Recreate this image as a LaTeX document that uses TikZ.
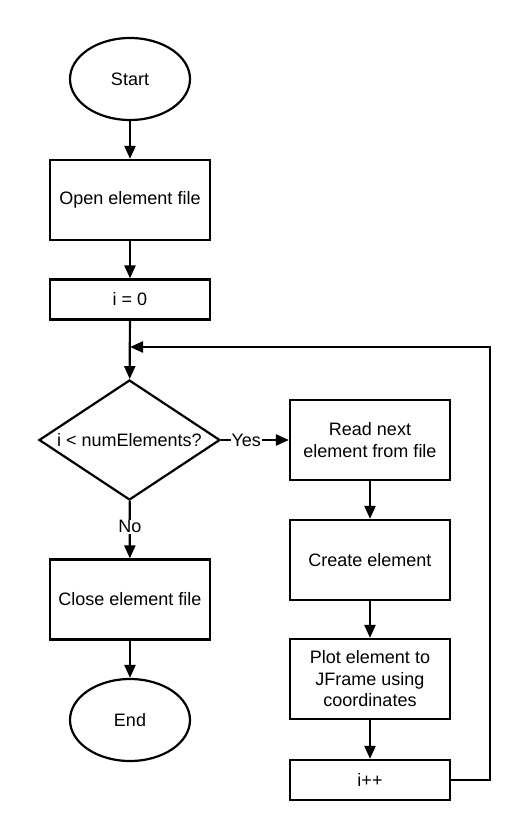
\documentclass[tikz,border=0pt]{standalone}
\usepackage{fontspec}
\setmainfont{Liberation Sans}
\usetikzlibrary{arrows.meta,shapes.geometric}
\begin{document}
\begin{tikzpicture}[x=1pt,y=-1pt,
  every node/.style={font=\fontsize{18}{21.5}\selectfont},
  box/.style={draw,line width=2.2pt,minimum width=160pt,align=center,inner sep=2pt},
  oval/.style={draw,ellipse,line width=2.2pt,minimum width=120pt,minimum height=82pt,inner sep=0pt},
  dec/.style={draw,diamond,line width=2.2pt,minimum width=181pt,minimum height=120pt,inner sep=0pt,aspect=1.5},
  conn/.style={line width=2.2pt,-{Triangle[length=13pt,width=11pt]}},
  lbl/.style={fill=white,inner sep=1pt}]
\useasboundingbox (0,0) rectangle (530,840);
\node[oval] (start) at (130,79) {Start};
\node[box,minimum height=80pt] (open) at (130,200) {Open element file};
\node[box,minimum height=40pt] (init) at (130,299.5) {i = 0};
\node[dec] (cond) at (129.5,440) {i < numElements?};
\node[box,minimum height=80pt] (close) at (130,599.5) {Close element file};
\node[oval] (end) at (130,720) {End};
\node[box,minimum height=80pt] (read) at (370,440) {Read next\\element from file};
\node[box,minimum height=80pt] (create) at (370,560) {Create element};
\node[box,minimum height=80pt] (plot) at (370,679) {Plot element to\\JFrame using\\coordinates};
\node[box,minimum height=40pt] (inc) at (370,780) {i++};
\coordinate (join) at (130,347);
\coordinate (c1) at (490,780);
\coordinate (c2) at (490,347);
\draw[conn] (start) -- (open);
\draw[conn] (open) -- (init);
\draw[conn] (init) -- (cond);
\draw[conn] (cond) -- node[lbl,pos=0.37]{Yes} (read);
\draw[conn] (cond) -- node[lbl,pos=0.45]{No} (close);
\draw[conn] (close) -- (end);
\draw[conn] (read) -- (create);
\draw[conn] (create) -- (plot);
\draw[conn] (plot) -- (inc);
\draw[conn] (inc.east) -- (c1) -- (c2) -- (join);
\end{tikzpicture}
\end{document}
